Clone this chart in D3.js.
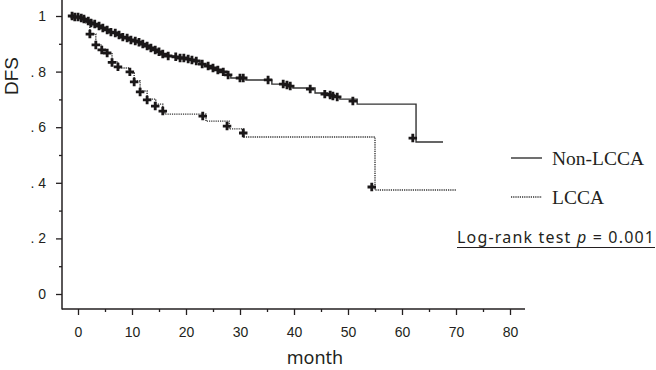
<!DOCTYPE html>
<html>
<head>
<meta charset="utf-8">
<script src="https://cdn.jsdelivr.net/npm/d3@7"></script>
<style>
  body { margin: 0; background: #fff; }
  svg text { fill: #231f20; }
</style>
</head>
<body>
<svg id="chart" width="656" height="370"></svg>
<script>
// Non-LCCA: step times (month) and survival after each step
const nonTimes = [-1.1, -0.6, 0.6, 1.1, 1.9, 2.4, 3.1, 3.9, 4.6, 5.4, 6.1, 6.9, 7.6, 8.3, 9.1, 9.8,
  10.6, 11.3, 12.0, 12.8, 13.5, 14.3, 15.0, 15.7, 16.7, 18.1, 18.9, 20.4, 21.1, 21.9, 22.6, 24.1,
  25.0, 25.9, 26.9, 27.8, 28.3, 31.1, 35.9, 38.5, 39.0, 39.8, 43.9, 46.2, 47.5, 48.5, 51.7, 62.6, 67.6];
const nonSurv = [1.000, 0.996, 0.993, 0.989, 0.982, 0.975, 0.971, 0.964, 0.957, 0.950, 0.942, 0.939, 0.932, 0.924, 0.921, 0.914,
  0.910, 0.906, 0.899, 0.892, 0.885, 0.878, 0.871, 0.863, 0.856, 0.853, 0.849, 0.845, 0.842, 0.838, 0.827, 0.820,
  0.813, 0.806, 0.799, 0.788, 0.777, 0.770, 0.755, 0.752, 0.748, 0.741, 0.723, 0.716, 0.709, 0.701, 0.683, 0.547, 0.547];

// Non-LCCA censored marks
const nonCensorT = [-1.1, -0.6, 0, 0.6, 1.1, 1.9, 2.4, 3.1, 3.9, 4.6, 5.4, 6.1, 6.9, 7.6, 8.3, 9.1, 9.8, 10.6, 11.3,
  12.0, 12.8, 13.5, 14.3, 15.0, 15.7, 16.7, 18.1, 18.9, 19.6, 20.4, 21.1, 21.9, 23.0, 24.1, 25.0, 25.9, 26.9,
  27.8, 30.0, 30.6, 35.2, 38.0, 38.7, 39.3, 43.0, 45.7, 46.7, 47.2, 48.0, 50.9, 62.0];
const nonCensorS = [1.000, 0.996, 0.996, 0.993, 0.989, 0.982, 0.975, 0.971, 0.964, 0.957, 0.950, 0.942, 0.939, 0.932, 0.924, 0.921, 0.914, 0.910, 0.906,
  0.899, 0.892, 0.885, 0.878, 0.871, 0.863, 0.856, 0.853, 0.849, 0.849, 0.845, 0.842, 0.838, 0.827, 0.820, 0.813, 0.806, 0.799,
  0.788, 0.777, 0.777, 0.770, 0.755, 0.752, 0.748, 0.737, 0.719, 0.716, 0.712, 0.709, 0.694, 0.561];

// LCCA
const lccaTimes = [-1.1, 0.4, 1.5, 2.2, 3.3, 4.4, 5.4, 6.3, 7.4, 9.5, 10.4, 11.5, 12.8, 14.4, 15.7, 16.1,
  23.7, 28.0, 30.7, 55.0, 70.0];
const lccaSurv = [1.000, 0.990, 0.975, 0.935, 0.896, 0.878, 0.867, 0.835, 0.813, 0.795, 0.766, 0.730, 0.701, 0.683, 0.658, 0.647,
  0.622, 0.594, 0.565, 0.374, 0.374];
const lccaCensorT = [2.2, 3.3, 4.4, 5.4, 6.3, 7.4, 9.6, 10.4, 11.5, 12.8, 14.3, 15.7, 23.1, 27.6, 30.6, 54.4];
const lccaCensorS = [0.935, 0.896, 0.878, 0.867, 0.833, 0.817, 0.799, 0.763, 0.727, 0.698, 0.676, 0.658, 0.640, 0.604, 0.579, 0.385];

// axis ticks
const xTicks = [0, 10, 20, 30, 40, 50, 60, 70, 80];
const xMinor = [5, 15, 25, 35, 45, 55, 65, 75];
const yTicks = [0, 0.2, 0.4, 0.6, 0.8, 1];
const yTickLabels = ["0", ". 2", ". 4", ". 6", ". 8", "1"];
const yMinor = [0.1, 0.3, 0.5, 0.7, 0.9];

const groups = ["Non-LCCA", "LCCA"];

const svg = d3.select("#chart");
const ink = "#231f20";

const x = d3.scaleLinear().domain([0, 80]).range([78, 510]);
const y = d3.scaleLinear().domain([0, 1]).range([294, 16]);

const axisX = 309, axisY = 62;

// axes lines
svg.append("line")
  .attr("x1", axisY).attr("x2", axisY).attr("y1", 0).attr("y2", axisX + 0.5)
  .attr("stroke", ink).attr("stroke-width", 1.5);
svg.append("line")
  .attr("x1", axisY).attr("x2", 525).attr("y1", axisX).attr("y2", axisX)
  .attr("stroke", ink).attr("stroke-width", 1.5);

// x axis
let gx = svg.append("g")
  .attr("transform", `translate(0,${axisX})`)
  .call(d3.axisBottom(x).tickValues(xTicks).tickSize(6).tickPadding(12).tickFormat(d3.format("d")));
gx.select(".domain").remove();
gx.selectAll(".tick line").attr("stroke", ink).attr("stroke-width", 1.3);
gx.selectAll(".tick text")
  .attr("font-family", "Liberation Sans, Arial, sans-serif")
  .attr("font-size", 14).attr("fill", ink);
let gxm = svg.append("g")
  .attr("transform", `translate(0,${axisX})`)
  .call(d3.axisBottom(x).tickValues(xMinor).tickSize(3).tickFormat(""));
gxm.select(".domain").remove();
gxm.selectAll(".tick line").attr("stroke", ink).attr("stroke-width", 1.3);

// y axis
let gy = svg.append("g")
  .attr("transform", `translate(${axisY},0)`)
  .call(d3.axisLeft(y).tickValues(yTicks).tickSize(6).tickPadding(10)
    .tickFormat((d, i) => yTickLabels[i]));
gy.select(".domain").remove();
gy.selectAll(".tick line").attr("stroke", ink).attr("stroke-width", 1.3);
gy.selectAll(".tick text")
  .attr("font-family", "Liberation Sans, Arial, sans-serif")
  .attr("font-size", 14).attr("fill", ink);
let gym = svg.append("g")
  .attr("transform", `translate(${axisY},0)`)
  .call(d3.axisLeft(y).tickValues(yMinor).tickSize(3).tickFormat(""));
gym.select(".domain").remove();
gym.selectAll(".tick line").attr("stroke", ink).attr("stroke-width", 1.3);

// axis titles
svg.append("text")
  .attr("x", 315).attr("y", 364)
  .attr("text-anchor", "middle")
  .attr("font-family", "Noto Sans, sans-serif")
  .attr("font-size", 18)
  .text("month");
svg.append("text")
  .attr("transform", "translate(18,76) rotate(-90)")
  .attr("text-anchor", "middle")
  .attr("font-family", "Liberation Sans, Arial, sans-serif")
  .attr("font-size", 19)
  .text("DFS");

// curves
const line = d3.line()
  .x(d => x(d[0])).y(d => y(d[1]))
  .curve(d3.curveStepAfter);

const nonPts = nonTimes.map((t, i) => [t, nonSurv[i]]);
const lccaPts = lccaTimes.map((t, i) => [t, lccaSurv[i]]);

svg.append("path")
  .datum(lccaPts)
  .attr("d", line)
  .attr("fill", "none")
  .attr("stroke", "#333")
  .attr("stroke-width", 1.4)
  .attr("stroke-dasharray", "1.2,1");

svg.append("path")
  .datum(nonPts)
  .attr("d", line)
  .attr("fill", "none")
  .attr("stroke", "#333")
  .attr("stroke-width", 1.4);

// censor marks
const cross = d3.symbol().type(d3.symbolCross).size(40);
const marks = nonCensorT.map((t, i) => [t, nonCensorS[i]])
  .concat(lccaCensorT.map((t, i) => [t, lccaCensorS[i]]));
svg.append("g").selectAll("path")
  .data(marks)
  .enter()
  .append("path")
  .attr("d", cross)
  .attr("transform", d => `translate(${x(d[0])},${y(d[1])})`)
  .attr("fill", "#1a1718");

// legend
const legendY = [158, 197];
const dash = ["none", "1.2,1"];
groups.forEach((g, i) => {
  svg.append("line")
    .attr("x1", 511).attr("x2", 542)
    .attr("y1", legendY[i]).attr("y2", legendY[i])
    .attr("stroke", "#333")
    .attr("stroke-width", 1.4)
    .attr("stroke-dasharray", dash[i]);
  svg.append("text")
    .attr("x", 552).attr("y", legendY[i] + 7)
    .attr("font-family", "Liberation Serif, Times New Roman, serif")
    .attr("font-size", 19.5)
    .text(g);
});

// log-rank annotation
let lr = svg.append("text")
  .attr("x", 457).attr("y", 243)
  .attr("font-family", "Noto Sans, sans-serif")
  .attr("font-size", 16)
  .attr("textLength", 197)
  .attr("lengthAdjust", "spacing");
lr.append("tspan").text("Log-rank test ");
lr.append("tspan").attr("font-style", "italic").text("p");
lr.append("tspan").text(" = 0.001");
svg.append("line")
  .attr("x1", 457).attr("x2", 655)
  .attr("y1", 247.5).attr("y2", 247.5)
  .attr("stroke", ink).attr("stroke-width", 1.2);
</script>
</body>
</html>
